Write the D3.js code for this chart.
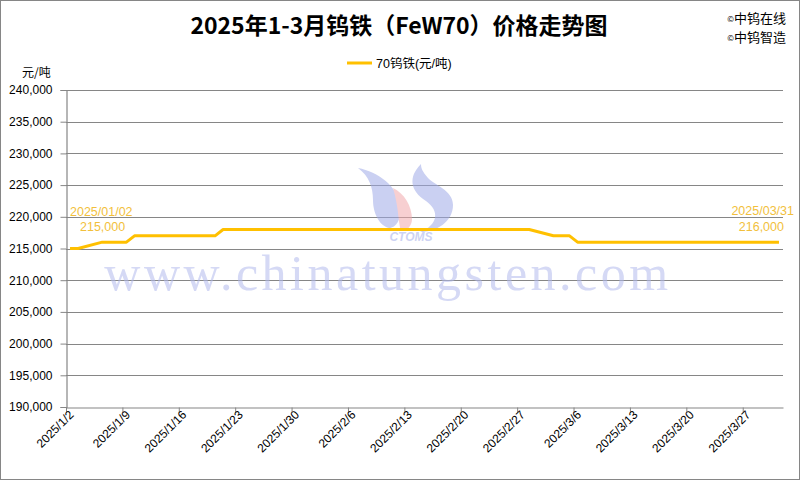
<!DOCTYPE html>
<html><head><meta charset="utf-8">
<script src="https://cdn.jsdelivr.net/npm/d3@7"></script>
<style>
html,body{margin:0;padding:0;background:#fff;}
svg{display:block;}
</style></head>
<body>
<svg id="chart" width="800" height="480"></svg>
<script>
// ---------- data ----------
const tradeDates = [
  "2025-01-02","2025-01-03",
  "2025-01-06","2025-01-07","2025-01-08","2025-01-09",
  "2025-01-10","2025-01-13","2025-01-14","2025-01-15","2025-01-16","2025-01-17","2025-01-20",
  "2025-01-21","2025-01-22","2025-01-23","2025-01-24","2025-01-27",
  "2025-02-05","2025-02-06","2025-02-07","2025-02-10","2025-02-11","2025-02-12","2025-02-13","2025-02-14",
  "2025-02-17","2025-02-18","2025-02-19","2025-02-20","2025-02-21","2025-02-24","2025-02-25","2025-02-26","2025-02-27","2025-02-28",
  "2025-03-03","2025-03-04","2025-03-05",
  "2025-03-06","2025-03-07","2025-03-10","2025-03-11","2025-03-12","2025-03-13","2025-03-14",
  "2025-03-17","2025-03-18","2025-03-19","2025-03-20","2025-03-21","2025-03-24","2025-03-25","2025-03-26","2025-03-27","2025-03-28","2025-03-31"
];
const priceValues = [
  215000,215000,
  216000,216000,216000,216000,
  217000,217000,217000,217000,217000,217000,217000,
  218000,218000,218000,218000,218000,
  218000,218000,218000,218000,218000,218000,218000,218000,
  218000,218000,218000,218000,218000,218000,218000,218000,218000,218000,
  217000,217000,217000,
  216000,216000,216000,216000,216000,216000,216000,
  216000,216000,216000,216000,216000,216000,216000,216000,216000,216000,216000
];
const xTickDates = ["2025-01-02","2025-01-09","2025-01-16","2025-01-23","2025-01-30","2025-02-06","2025-02-13",
  "2025-02-20","2025-02-27","2025-03-06","2025-03-13","2025-03-20","2025-03-27"];
const yTickValues = [190000,195000,200000,205000,210000,215000,220000,225000,230000,235000,240000];
const xDomain = ["2025-01-02","2025-04-01"];
const titleText = "2025年1-3月钨铁（FeW70）价格走势图";
const seriesName = "70钨铁(元/吨)";
const yUnit = "元/吨";
const copyright = ["中钨在线","中钨智造"];
const startLabel = ["2025/01/02","215,000"];
const endLabel = ["2025/03/31","216,000"];

// ---------- setup ----------
const parse = d3.utcParse("%Y-%m-%d");
const svg = d3.select("#chart");
const FONT = "'Liberation Sans','Noto Sans CJK SC',sans-serif";
const CJK = "'Noto Sans CJK SC','Liberation Sans',sans-serif";
const gold = "#FFC000";
const labelGold = "#F2BF3C";
const gray = "#868686";

const plot = {left:66, right:783, top:90, bottom:407};
const x = d3.scaleUtc().domain(xDomain.map(parse)).range([plot.left, plot.right]);
const y = d3.scaleLinear().domain([190000,240000]).range([plot.bottom, plot.top]);
const noon = d => d3.utcHour.offset(parse(d), 12);

// outer border
svg.append("rect").attr("x",0.5).attr("y",0.5).attr("width",799).attr("height",479)
  .attr("fill","#fff").attr("stroke",gray).attr("stroke-width",1);

// title
svg.append("text").attr("x",399).attr("y",34).attr("text-anchor","middle")
  .attr("font-family",CJK).attr("font-weight","bold").attr("font-size",23).attr("fill","#000")
  .text(titleText);

// copyright
copyright.forEach((t,i)=>{
  const tx = svg.append("text").attr("x",786).attr("y",23+i*19).attr("text-anchor","end")
    .attr("font-family",CJK).attr("font-size",13).attr("fill","#000");
  tx.append("tspan").attr("font-size",8).attr("dy",-1).text("©");
  tx.append("tspan").attr("dy",1).text(t);
});

// legend
svg.append("line").attr("x1",347).attr("x2",372).attr("y1",63).attr("y2",63)
  .attr("stroke",gold).attr("stroke-width",3);
svg.append("text").attr("x",376).attr("y",67.5).attr("font-family",FONT).attr("font-size",12.5)
  .attr("fill","#000").text(seriesName);

// y unit
svg.append("text").attr("x",22).attr("y",77).attr("font-family",CJK).attr("font-size",12)
  .attr("fill","#000").text(yUnit);

// gridlines
svg.append("g").selectAll("line").data(yTickValues.filter(v=>v>190000)).join("line")
  .attr("x1",plot.left).attr("x2",plot.right)
  .attr("y1",d=>Math.round(y(d))+0.5).attr("y2",d=>Math.round(y(d))+0.5)
  .attr("stroke",gray).attr("stroke-width",1.2);

// watermark
const wm = svg.append("g").attr("opacity",0.55);
wm.append("text").attr("x",388).attr("y",290).attr("text-anchor","middle")
  .attr("font-family","'Liberation Serif','DejaVu Serif',serif").attr("font-size",50)
  .attr("letter-spacing",3.5).attr("fill","#B3BBEE").text("www.chinatungsten.com");
wm.append("path").attr("fill","#9FAAE8")
  .attr("d","M358,168 C378,172 398,186 400,206 C402,219 396,228 389,228 C380,226 373,214 373,200 C373,187 369,176 358,168 Z");
wm.append("path").attr("fill","#F2A9AD")
  .attr("d","M393,188 C404,193 412,206 412,219 C412,226 407,231 401,231 C398,222 399,208 393,188 Z");
wm.append("path").attr("fill","#9FAAE8")
  .attr("d","M421,164 C408,177 410,191 426,201 C440,211 438,225 420,232 C436,232 453,222 453,205 C453,190 434,185 428,178 C422,171 421,168 421,164 Z");
wm.append("text").attr("x",411).attr("y",241).attr("text-anchor","middle")
  .attr("font-family","'Liberation Sans',sans-serif").attr("font-weight","bold").attr("font-style","italic")
  .attr("font-size",12).attr("fill","#A6B0EA").text("CTOMS");

// y axis
const yAxis = svg.append("g").attr("transform",`translate(${plot.left+0.5},0)`)
  .call(d3.axisLeft(y).tickValues(yTickValues).tickSize(6).tickPadding(8)
    .tickFormat(d3.format(",")));
yAxis.select(".domain").attr("stroke",gray).attr("stroke-width",1.2);
yAxis.selectAll(".tick line").attr("stroke",gray);
yAxis.selectAll(".tick text").attr("font-family",FONT).attr("font-size",12).attr("fill","#000");

// x axis
const xAxis = svg.append("g").attr("transform",`translate(0,${plot.bottom+0.5})`)
  .call(d3.axisBottom(x).tickValues(xTickDates.map(parse)).tickSize(5).tickSizeOuter(0)
    .tickFormat(d3.utcFormat("%Y/%-m/%-d")));
xAxis.select(".domain").attr("stroke",gray).attr("stroke-width",1.2);
xAxis.selectAll(".tick line").attr("stroke",gray);
xAxis.selectAll(".tick text").attr("font-family",FONT).attr("font-size",12).attr("fill","#000")
  .attr("text-anchor","end").attr("dy","0.35em")
  .attr("transform","translate(5,5) rotate(-45)").attr("y",0).attr("x",0);

// line
const line = d3.line().x(d=>x(noon(d.date))).y(d=>y(d.value));
const series = tradeDates.map((d,i)=>({date:d, value:priceValues[i]}));
svg.append("path").datum(series).attr("d",line).attr("fill","none")
  .attr("stroke",gold).attr("stroke-width",3).attr("stroke-linejoin","round");

// data labels
const first = series[0], last = series[series.length-1];
const fx = x(noon(first.date)), lx = x(noon(last.date));
svg.append("text").attr("x",fx).attr("y",216).attr("font-family",FONT).attr("font-size",12.5)
  .attr("fill",labelGold).text(startLabel[0]);
svg.append("text").attr("x",fx+10).attr("y",231).attr("font-family",FONT).attr("font-size",12.5)
  .attr("fill",labelGold).text(startLabel[1]);
svg.append("text").attr("x",lx+15).attr("y",215).attr("text-anchor","end").attr("font-family",FONT).attr("font-size",12.5)
  .attr("fill",labelGold).text(endLabel[0]);
svg.append("text").attr("x",lx+5).attr("y",231).attr("text-anchor","end").attr("font-family",FONT).attr("font-size",12.5)
  .attr("fill",labelGold).text(endLabel[1]);
</script>
</body></html>
